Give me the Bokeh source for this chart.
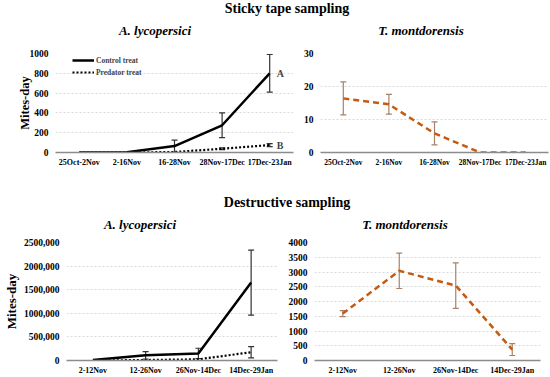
from bokeh.plotting import figure
from bokeh.models import (ColumnDataSource, Whisker, Legend, LegendItem, Div,
                          FactorRange, TeeHead, Label)
from bokeh.layouts import column, row
from bokeh.embed import file_html
from bokeh.resources import INLINE

# ---------------- data ----------------
sticky_periods = ["25Oct-2Nov", "2-16Nov", "16-28Nov", "28Nov-17Dec", "17Dec-23Jan"]
sticky_control = [0, 3, 65, 275, 800]
sticky_control_err = [0, 0, 60, 125, 190]
sticky_predator = [0, 0, 5, 38, 75]
sticky_predator_err = [0, 0, 0, 8, 15]
sticky_tm = [16.4, 14.6, 5.8, 0, 0]
sticky_tm_err = [5.0, 3.0, 3.5, 0, 0]

destr_periods = ["2-12Nov", "12-26Nov", "26Nov-14Dec", "14Dec-29Jan"]
destr_control = [10000, 110000, 150000, 1650000]
destr_control_err = [0, 80000, 110000, 690000]
destr_predator = [0, 10000, 25000, 175000]
destr_predator_err = [0, 0, 0, 120000]
destr_tm = [1590, 3040, 2540, 370]
destr_tm_err = [100, 600, 770, 200]

sticky_left_ticks = [0, 200, 400, 600, 800, 1000]
sticky_right_ticks = [0, 10, 20, 30]
destr_left_ticks = [0, 500000, 1000000, 1500000, 2000000, 2500000]
destr_left_labels = ["0", "500,000", "1000,000", "1500,000", "2000,000", "2500,000"]
destr_right_ticks = [0, 500, 1000, 1500, 2000, 2500, 3000, 3500, 4000]

SERIF = "Liberation Serif"
ORANGE = "#C55A11"
ERR_OR = "#A6826A"


def base_fig(cats, ymax, ticks, w, h, bl, br, bt, bb, ylabel=None, xfs="8px",
             yl_size="12.5px", yl_standoff=2):
    p = figure(x_range=FactorRange(*cats, range_padding=0), y_range=(0, ymax),
               width=w, height=h, output_backend="svg", toolbar_location=None,
               min_border_left=bl, min_border_right=br, min_border_top=bt,
               min_border_bottom=bb)
    p.outline_line_color = None
    p.xgrid.grid_line_color = None
    p.ygrid.grid_line_color = "#d9d9d9"
    p.ygrid.grid_line_dash = "2 2"
    p.yaxis.ticker = ticks
    p.yaxis.axis_line_color = None
    p.yaxis.major_tick_line_color = None
    p.yaxis.minor_tick_line_color = None
    p.yaxis.major_tick_out = 0
    p.yaxis.major_tick_in = 0
    p.yaxis.minor_tick_out = 0
    p.yaxis.minor_tick_in = 0
    p.yaxis.major_label_text_font = SERIF
    p.yaxis.major_label_text_font_style = "bold"
    p.yaxis.major_label_text_font_size = "9.5px"
    p.yaxis.major_label_text_color = "#000000"
    p.yaxis.major_label_standoff = 7
    p.xaxis.axis_line_color = "#8c8c8c"
    p.xaxis.axis_line_width = 1.5
    p.xaxis.major_tick_line_color = None
    p.xaxis.minor_tick_line_color = None
    p.xaxis.major_tick_out = 0
    p.xaxis.major_tick_in = 0
    p.xaxis.minor_tick_out = 0
    p.xaxis.minor_tick_in = 0
    p.xaxis.major_label_text_font = SERIF
    p.xaxis.major_label_text_font_style = "bold"
    p.xaxis.major_label_text_font_size = xfs
    p.xaxis.major_label_text_color = "#000000"
    p.xaxis.major_label_standoff = 5
    if ylabel:
        p.yaxis.axis_label = ylabel
        p.yaxis.axis_label_text_font = SERIF
        p.yaxis.axis_label_text_font_style = "bold"
        p.yaxis.axis_label_text_font_size = yl_size
        p.yaxis.axis_label_text_color = "#000000"
        p.yaxis.axis_label_standoff = yl_standoff
    return p


def add_err(p, cats, vals, errs, color, width=1.2, size=6):
    keep = [i for i, e in enumerate(errs) if e > 0]
    src = ColumnDataSource(dict(x=[cats[i] for i in keep],
                                lo=[vals[i] - errs[i] for i in keep],
                                hi=[vals[i] + errs[i] for i in keep]))
    w = Whisker(base="x", upper="hi", lower="lo", source=src,
                line_color=color, line_width=width,
                upper_head=TeeHead(size=size, line_color=color, line_width=width),
                lower_head=TeeHead(size=size, line_color=color, line_width=width))
    p.add_layout(w)


# ---------------- top-left ----------------
p1 = base_fig(sticky_periods, 1000, sticky_left_ticks, 300, 148, 55, 7, 9, 40,
              ylabel="Mites-day", yl_standoff=-5)
r1 = p1.line(sticky_periods, sticky_control, line_color="black", line_width=2.5)
r2 = p1.line(sticky_periods, sticky_predator, line_color="black", line_width=2.2,
             line_dash="2 2")
add_err(p1, sticky_periods, sticky_control, sticky_control_err, "#333333")
add_err(p1, sticky_periods, sticky_predator, sticky_predator_err, "#333333")
leg = Legend(items=[LegendItem(label="Control treat", renderers=[r1]),
                    LegendItem(label="Predator treat", renderers=[r2])],
             location=(17, 74), label_text_font=SERIF, label_text_font_style="bold",
             label_text_font_size="7.5px", glyph_width=22, glyph_height=12,
             label_height=12, spacing=0, padding=0, margin=0,
             label_standoff=2, border_line_color=None, background_fill_alpha=0)
p1.add_layout(leg)
p1.add_layout(Label(x=4.5, y=800, text="A", text_font=SERIF, text_font_style="bold",
                    text_font_size="10px", x_offset=7, text_baseline="middle"))
p1.add_layout(Label(x=4.5, y=75, text="B", text_font=SERIF, text_font_style="bold",
                    text_font_size="10px", x_offset=7, text_baseline="middle"))

# ---------------- top-right ----------------
p2 = base_fig(sticky_periods, 30, sticky_right_ticks, 250, 148, 18, 2, 9, 40,
              xfs="7.5px")
add_err(p2, sticky_periods, sticky_tm, sticky_tm_err, ERR_OR, 1.2)
p2.line(sticky_periods, sticky_tm, line_color=ORANGE, line_width=2.5, line_dash="6 4")

# ---------------- bottom-left ----------------
p3 = base_fig(destr_periods, 2500000, destr_left_ticks, 285, 141, 63, 8, 6, 16,
              ylabel="Mites-day", yl_size="13px")
p3.yaxis.major_label_overrides = {t: s for t, s in zip(destr_left_ticks, destr_left_labels)}
p3.line(destr_periods, destr_control, line_color="black", line_width=2.5)
p3.line(destr_periods, destr_predator, line_color="black", line_width=2.2, line_dash="2 2")
add_err(p3, destr_periods, destr_control, destr_control_err, "#333333")
add_err(p3, destr_periods, destr_predator, destr_predator_err, "#333333")

# ---------------- bottom-right ----------------
p4 = base_fig(destr_periods, 4000, destr_right_ticks, 265, 141, 27, 10, 6, 16)
add_err(p4, destr_periods, destr_tm, destr_tm_err, ERR_OR, 1.2)
p4.line(destr_periods, destr_tm, line_color=ORANGE, line_width=2.5, line_dash="6 4")


def text_div(txt, w, h, size, italic=False, pl=0, pr=0):
    st = {"font-family": SERIF, "font-weight": "bold", "font-size": size,
          "text-align": "center", "line-height": f"{h}px", "color": "#000",
          "padding-left": f"{pl}px", "padding-right": f"{pr}px",
          "box-sizing": "border-box", "width": f"{w}px", "height": f"{h}px",
          "white-space": "nowrap"}
    if italic:
        st["font-style"] = "italic"
    return Div(text=txt, width=w, height=h, margin=0, styles=st)


d1 = text_div("Sticky tape sampling", 550, 18, "14px", pl=24)
s1 = text_div("A. lycopersici", 300, 26, "13px", True, pl=10)
s2 = text_div("T. montdorensis", 250, 26, "13px", True, pr=8)
d2 = text_div("Destructive sampling", 550, 22, "14px", pl=24)
s3 = text_div("A. lycopersici", 285, 22, "13px", True, pr=5)
s4 = text_div("T. montdorensis", 265, 22, "13px", True, pr=25)

layout = column(d1, row(s1, s2), row(p1, p2), d2, row(s3, s4), row(p3, p4))
open("out.html", "w").write(file_html(layout, INLINE))
